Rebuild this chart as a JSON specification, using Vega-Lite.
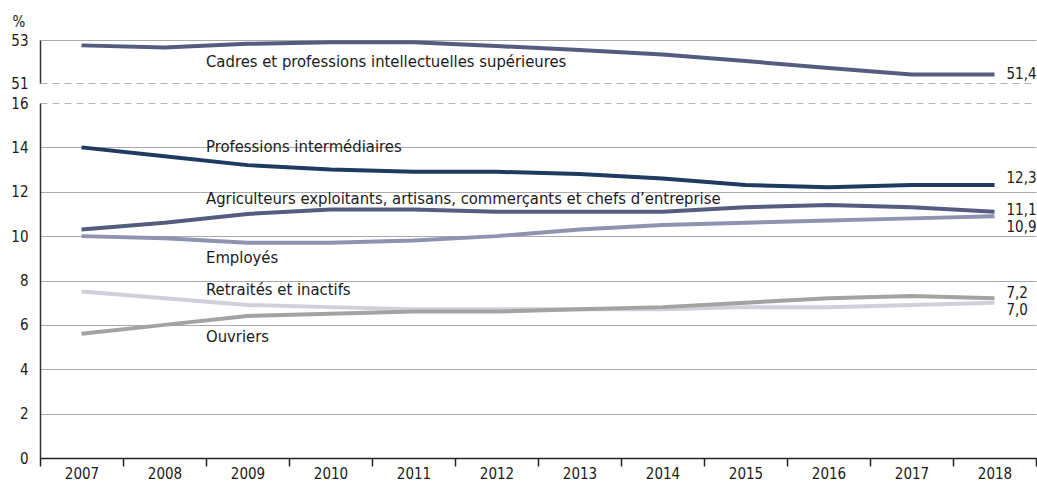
{
  "$schema": "https://vega.github.io/schema/vega-lite/v6.json",
  "padding": {"left": 10, "top": 14, "right": 0, "bottom": 0},
  "background": "white",
  "spacing": 5,
  "config": {
    "view": {"stroke": null},
    "font": "DejaVu Sans Condensed",
    "axis": {"labelFont": "DejaVu Sans Condensed", "labelFontSize": 15, "labelColor": "#1a1a1a", "titleFont": "DejaVu Sans Condensed"},
    "text": {"font": "DejaVu Sans Condensed", "fontSize": 15, "color": "#1a1a1a"}
  },
  "datasets": {
    "series": [
      {"series": "Cadres", "year": 2007, "value": 52.75},
      {"series": "Cadres", "year": 2008, "value": 52.65},
      {"series": "Cadres", "year": 2009, "value": 52.82},
      {"series": "Cadres", "year": 2010, "value": 52.9},
      {"series": "Cadres", "year": 2011, "value": 52.9},
      {"series": "Cadres", "year": 2012, "value": 52.72},
      {"series": "Cadres", "year": 2013, "value": 52.53},
      {"series": "Cadres", "year": 2014, "value": 52.33},
      {"series": "Cadres", "year": 2015, "value": 52.02},
      {"series": "Cadres", "year": 2016, "value": 51.7},
      {"series": "Cadres", "year": 2017, "value": 51.4},
      {"series": "Cadres", "year": 2018, "value": 51.4},
      {"series": "Professions intermédiaires", "year": 2007, "value": 14.0},
      {"series": "Professions intermédiaires", "year": 2008, "value": 13.6},
      {"series": "Professions intermédiaires", "year": 2009, "value": 13.2},
      {"series": "Professions intermédiaires", "year": 2010, "value": 13.0},
      {"series": "Professions intermédiaires", "year": 2011, "value": 12.9},
      {"series": "Professions intermédiaires", "year": 2012, "value": 12.9},
      {"series": "Professions intermédiaires", "year": 2013, "value": 12.8},
      {"series": "Professions intermédiaires", "year": 2014, "value": 12.6},
      {"series": "Professions intermédiaires", "year": 2015, "value": 12.3},
      {"series": "Professions intermédiaires", "year": 2016, "value": 12.2},
      {"series": "Professions intermédiaires", "year": 2017, "value": 12.3},
      {"series": "Professions intermédiaires", "year": 2018, "value": 12.3},
      {"series": "Agriculteurs", "year": 2007, "value": 10.3},
      {"series": "Agriculteurs", "year": 2008, "value": 10.6},
      {"series": "Agriculteurs", "year": 2009, "value": 11.0},
      {"series": "Agriculteurs", "year": 2010, "value": 11.2},
      {"series": "Agriculteurs", "year": 2011, "value": 11.2},
      {"series": "Agriculteurs", "year": 2012, "value": 11.1},
      {"series": "Agriculteurs", "year": 2013, "value": 11.1},
      {"series": "Agriculteurs", "year": 2014, "value": 11.1},
      {"series": "Agriculteurs", "year": 2015, "value": 11.3},
      {"series": "Agriculteurs", "year": 2016, "value": 11.4},
      {"series": "Agriculteurs", "year": 2017, "value": 11.3},
      {"series": "Agriculteurs", "year": 2018, "value": 11.1},
      {"series": "Employés", "year": 2007, "value": 10.0},
      {"series": "Employés", "year": 2008, "value": 9.9},
      {"series": "Employés", "year": 2009, "value": 9.7},
      {"series": "Employés", "year": 2010, "value": 9.7},
      {"series": "Employés", "year": 2011, "value": 9.8},
      {"series": "Employés", "year": 2012, "value": 10.0},
      {"series": "Employés", "year": 2013, "value": 10.3},
      {"series": "Employés", "year": 2014, "value": 10.5},
      {"series": "Employés", "year": 2015, "value": 10.6},
      {"series": "Employés", "year": 2016, "value": 10.7},
      {"series": "Employés", "year": 2017, "value": 10.8},
      {"series": "Employés", "year": 2018, "value": 10.9},
      {"series": "Retraités", "year": 2007, "value": 7.5},
      {"series": "Retraités", "year": 2008, "value": 7.2},
      {"series": "Retraités", "year": 2009, "value": 6.9},
      {"series": "Retraités", "year": 2010, "value": 6.8},
      {"series": "Retraités", "year": 2011, "value": 6.7},
      {"series": "Retraités", "year": 2012, "value": 6.7},
      {"series": "Retraités", "year": 2013, "value": 6.7},
      {"series": "Retraités", "year": 2014, "value": 6.7},
      {"series": "Retraités", "year": 2015, "value": 6.8},
      {"series": "Retraités", "year": 2016, "value": 6.8},
      {"series": "Retraités", "year": 2017, "value": 6.9},
      {"series": "Retraités", "year": 2018, "value": 7.0},
      {"series": "Ouvriers", "year": 2007, "value": 5.6},
      {"series": "Ouvriers", "year": 2008, "value": 6.0},
      {"series": "Ouvriers", "year": 2009, "value": 6.4},
      {"series": "Ouvriers", "year": 2010, "value": 6.5},
      {"series": "Ouvriers", "year": 2011, "value": 6.6},
      {"series": "Ouvriers", "year": 2012, "value": 6.6},
      {"series": "Ouvriers", "year": 2013, "value": 6.7},
      {"series": "Ouvriers", "year": 2014, "value": 6.8},
      {"series": "Ouvriers", "year": 2015, "value": 7.0},
      {"series": "Ouvriers", "year": 2016, "value": 7.2},
      {"series": "Ouvriers", "year": 2017, "value": 7.3},
      {"series": "Ouvriers", "year": 2018, "value": 7.2}
    ],
    "notes": [
      {"panel": "top", "year": 2008, "value": 52.0, "label": "Cadres et professions intellectuelles supérieures"},
      {"panel": "bottom", "year": 2008, "value": 14.0, "label": "Professions intermédiaires"},
      {"panel": "bottom", "year": 2008, "value": 11.67, "label": "Agriculteurs exploitants, artisans, commerçants et chefs d’entreprise"},
      {"panel": "bottom", "year": 2008, "value": 9.0, "label": "Employés"},
      {"panel": "bottom", "year": 2008, "value": 7.57, "label": "Retraités et inactifs"},
      {"panel": "bottom", "year": 2008, "value": 5.45, "label": "Ouvriers"}
    ],
    "ends": [
      {"panel": "top", "year": 2018, "value": 51.4, "label": "51,4"},
      {"panel": "bottom", "year": 2018, "value": 12.6, "label": "12,3"},
      {"panel": "bottom", "year": 2018, "value": 11.17, "label": "11,1"},
      {"panel": "bottom", "year": 2018, "value": 10.42, "label": "10,9"},
      {"panel": "bottom", "year": 2018, "value": 7.45, "label": "7,2"},
      {"panel": "bottom", "year": 2018, "value": 6.67, "label": "7,0"}
    ]
  },
  "vconcat": [
    {
      "width": 996,
      "height": 43,
      "layer": [
        {
          "data": {"name": "series"},
          "transform": [{"filter": "datum.series === 'Cadres'"}],
          "mark": {"type": "line", "strokeWidth": 4, "color": "#545c82"},
          "encoding": {
            "x": {"field": "year", "type": "ordinal", "bandPosition": 0.5,
                  "scale": {"type": "band", "paddingInner": 0, "paddingOuter": 0}, "axis": null},
            "y": {"field": "value", "type": "quantitative",
                  "scale": {"domain": [51, 53], "zero": false, "nice": false},
                  "axis": {"values": [51, 53], "title": "%", "titleAngle": 0, "titleAlign": "left", "titleBaseline": "alphabetic",
                           "titleX": -28, "titleY": -14, "titleFontSize": 15, "titleFontWeight": "normal", "titleColor": "#1a1a1a",
                           "ticks": false, "labelPadding": 12, "domainColor": "#333333", "domainWidth": 1.5,
                           "grid": true, "gridColor": {"condition": {"test": "datum.value === 51", "value": "#b0b0b0"}, "value": "#aaaaaa"},
                           "gridDash": {"condition": {"test": "datum.value === 51", "value": [7, 5]}, "value": []},
                           "gridWidth": 1.2}}
          }
        },
        {
          "data": {"name": "notes"},
          "transform": [{"filter": "datum.panel === 'top'"}],
          "mark": {"type": "text", "align": "left", "baseline": "middle", "fontSize": 16.5},
          "encoding": {
            "x": {"field": "year", "type": "ordinal", "bandPosition": 1},
            "y": {"field": "value", "type": "quantitative"},
            "text": {"field": "label"}
          }
        },
        {
          "data": {"name": "ends"},
          "transform": [{"filter": "datum.panel === 'top'"}],
          "mark": {"type": "text", "align": "left", "baseline": "middle", "dx": 12},
          "encoding": {
            "x": {"field": "year", "type": "ordinal", "bandPosition": 0.5},
            "y": {"field": "value", "type": "quantitative"},
            "text": {"field": "label"}
          }
        }
      ]
    },
    {
      "width": 996,
      "height": 355,
      "layer": [
        {
          "data": {"name": "series"},
          "transform": [{"filter": "datum.series !== 'Cadres'"}],
          "mark": {"type": "line", "strokeWidth": 4},
          "encoding": {
            "x": {"field": "year", "type": "ordinal", "bandPosition": 0.5,
                  "scale": {"type": "band", "paddingInner": 0, "paddingOuter": 0},
                  "axis": {"title": null, "labelAngle": 0, "tickBand": "extent", "tickSize": 8, "tickColor": "#222222", "tickWidth": 1.5,
                           "domainColor": "#222222", "domainWidth": 1.5, "labelPadding": 0, "labelBaseline": "top"}},
            "y": {"field": "value", "type": "quantitative",
                  "scale": {"domain": [0, 16], "nice": false},
                  "axis": {"values": [0, 2, 4, 6, 8, 10, 12, 14, 16], "title": null, "ticks": false, "labelPadding": 12,
                           "domainColor": "#333333", "domainWidth": 1.5,
                           "grid": true, "gridColor": {"condition": {"test": "datum.value === 16", "value": "#b8b8b8"}, "value": "#aaaaaa"},
                           "gridDash": {"condition": {"test": "datum.value === 16", "value": [7, 5]}, "value": []},
                           "gridWidth": 1.2}},
            "color": {"field": "series", "type": "nominal", "legend": null,
                      "scale": {"domain": ["Professions intermédiaires", "Agriculteurs", "Employés", "Retraités", "Ouvriers"],
                                "range": ["#1f3b62", "#545c82", "#8e93b0", "#cfd0dc", "#a3a3a2"]}}
          }
        },
        {
          "data": {"name": "notes"},
          "transform": [{"filter": "datum.panel === 'bottom'"}],
          "mark": {"type": "text", "align": "left", "baseline": "middle", "fontSize": 16.5},
          "encoding": {
            "x": {"field": "year", "type": "ordinal", "bandPosition": 1},
            "y": {"field": "value", "type": "quantitative"},
            "text": {"field": "label"}
          }
        },
        {
          "data": {"name": "ends"},
          "transform": [{"filter": "datum.panel === 'bottom'"}],
          "mark": {"type": "text", "align": "left", "baseline": "middle", "dx": 12},
          "encoding": {
            "x": {"field": "year", "type": "ordinal", "bandPosition": 0.5},
            "y": {"field": "value", "type": "quantitative"},
            "text": {"field": "label"}
          }
        }
      ]
    }
  ]
}
